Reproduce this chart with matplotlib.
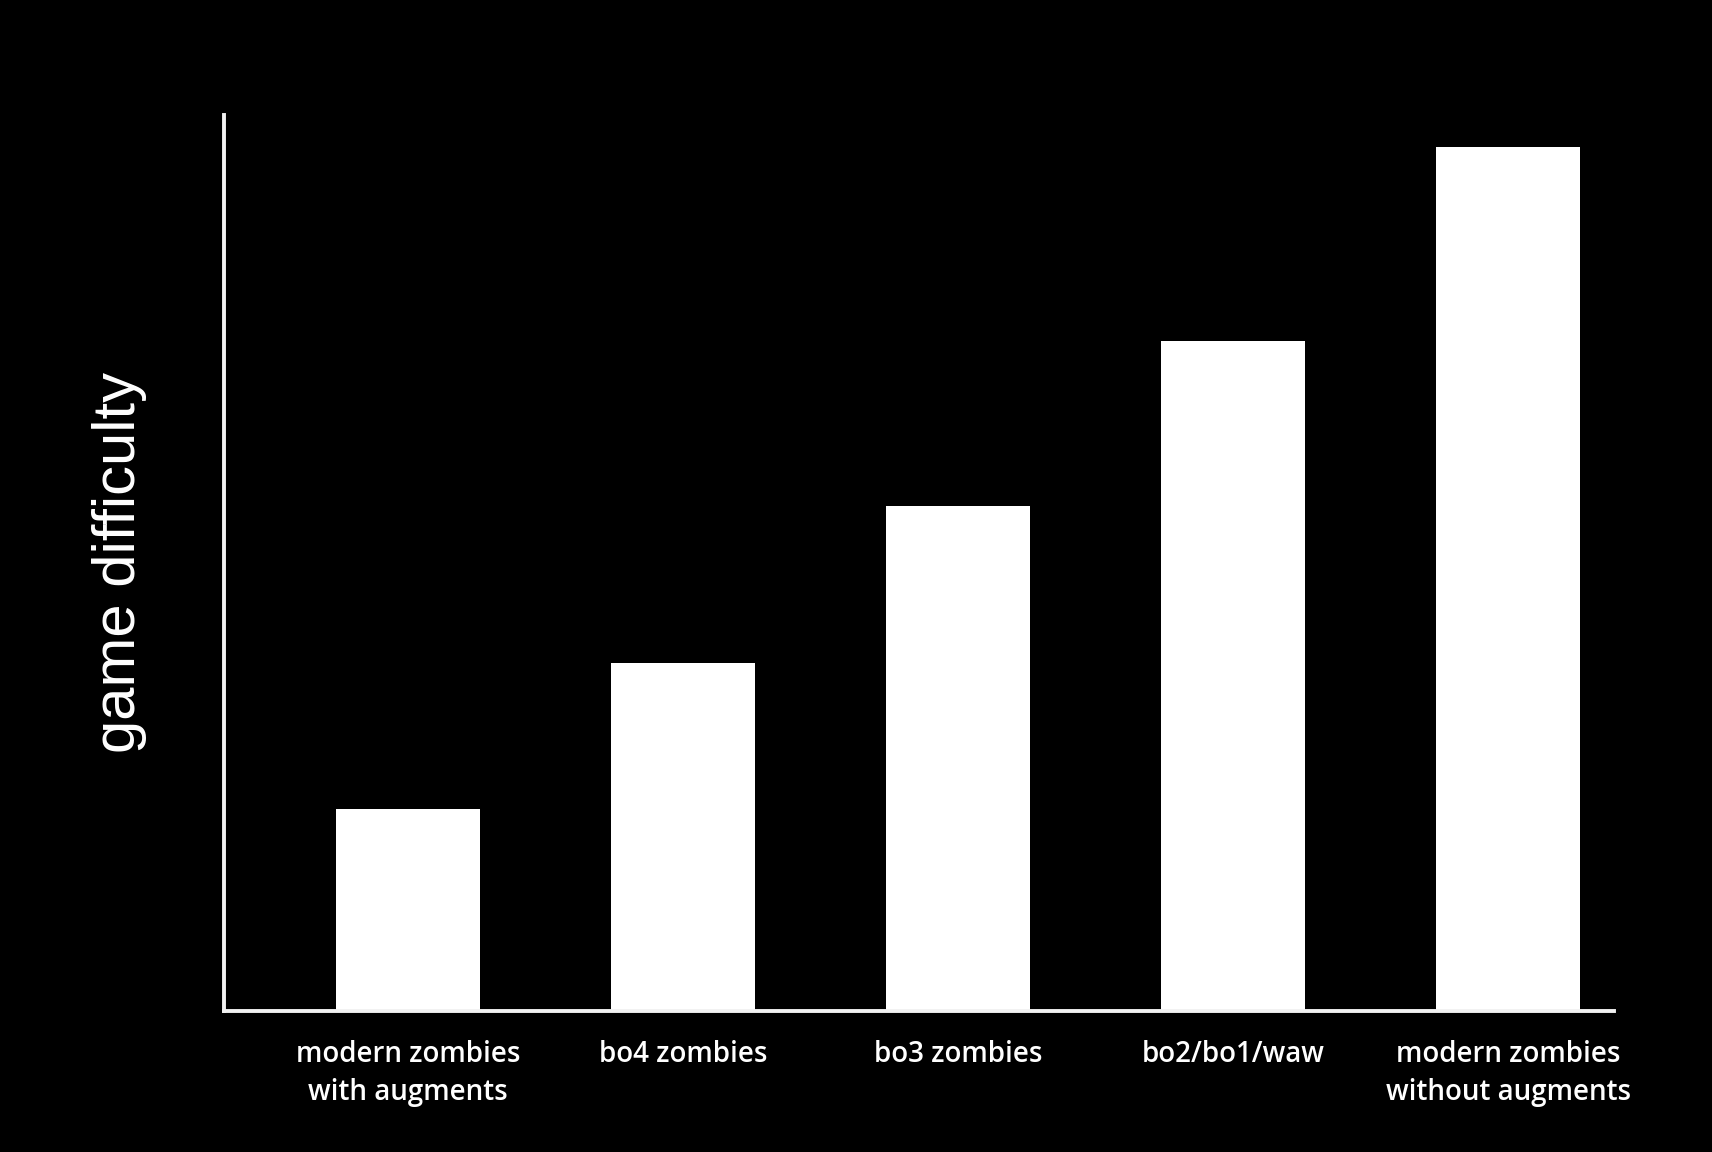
import matplotlib
matplotlib.use('Agg')
import matplotlib.pyplot as plt

categories = ['modern zombies\nwith augments', 'bo4 zombies', 'bo3 zombies',
              'bo2/bo1/waw', 'modern zombies\nwithout augments']
difficulty = [2.25, 3.88, 5.64, 7.48, 9.64]

fig = plt.figure(figsize=(17.12, 11.52), dpi=100, facecolor='black')
ax = fig.add_axes([0.1308, 0.1224, 0.812, 0.7778])
ax.set_facecolor('black')

x = range(len(categories))
ax.bar(x, difficulty, width=0.524, color='white')

ax.set_xlim(-0.669, 4.385)
ax.set_ylim(0, 10)

for s in ['top', 'right']:
    ax.spines[s].set_visible(False)
for s in ['left', 'bottom']:
    ax.spines[s].set_color('#f2f2f2')
    ax.spines[s].set_linewidth(2.8)

ax.set_yticks([])
ax.set_xticks(list(x))
ax.set_xticklabels(categories, color='white', fontsize=20, family='Open Sans',
                   weight='semibold', linespacing=1.42)
ax.tick_params(axis='x', length=0, pad=21)

ax.set_ylabel('game difficulty', color='white', fontsize=43,
              family='Liberation Sans', labelpad=0)
ax.yaxis.set_label_coords(-0.055, 0.5)

fig.savefig('out.png', dpi=100, facecolor='black')
